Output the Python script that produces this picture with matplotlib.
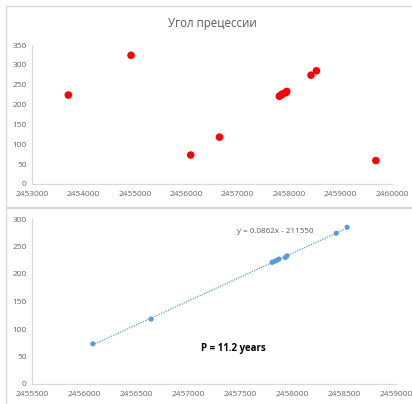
import matplotlib
matplotlib.use("Agg")
import matplotlib.pyplot as plt
from matplotlib.patches import Rectangle
import numpy as np

# Julian dates of the observations and the measured precession angle (deg)
jd = [2453706, 2454926, 2456085, 2456645, 2457808, 2457832, 2457855,
      2457875, 2457935, 2457952, 2458425, 2458530, 2459686]
angle = [224, 324, 73, 118, 221, 223, 225, 227, 230, 233, 274, 285, 59]

# observations used for the linear fit (one continuous cycle)
fit_start, fit_end = 2456000, 2459000

title = "Угол прецессии"
eq_text = "y = 0.0862x - 211550"
period_text = "P = 11.2 years"

top_xticks = list(range(2453000, 2460001, 1000))
top_yticks = list(range(0, 351, 50))
bot_xticks = list(range(2455500, 2459001, 500))
bot_yticks = list(range(0, 301, 50))

plt.rcParams['font.family'] = ['Open Sans', 'DejaVu Sans']

W, H = 412, 404
fig = plt.figure(figsize=(W / 100, H / 100), dpi=100)
fig.patch.set_facecolor("white")

frame_col = "#d9d9d9"
axis_col = "#d9d9d9"
tick_col = "#666666"


def px_axes(x0, x1, y_top, y_bot):
    return fig.add_axes([x0 / W, 1 - y_bot / H, (x1 - x0) / W, (y_bot - y_top) / H])


def style(ax):
    for s in ("top", "right"):
        ax.spines[s].set_visible(False)
    for s in ("left", "bottom"):
        ax.spines[s].set_color(axis_col)
        ax.spines[s].set_linewidth(0.9)
    ax.tick_params(length=0, labelsize=6.0, colors=tick_col)
    ax.tick_params(axis="x", pad=5)
    ax.tick_params(axis="y", pad=4)
    ax.set_facecolor("none")


# chart frames
fig.patches.append(Rectangle((6 / W, 1 - 207 / H), 410 / W, 201 / H,
                             transform=fig.transFigure, fill=False,
                             edgecolor=frame_col, linewidth=1.0))
fig.patches.append(Rectangle((6 / W, 1 - 410 / H), 410 / W, 202 / H,
                             transform=fig.transFigure, fill=False,
                             edgecolor=frame_col, linewidth=1.0))

# top chart: all observations
ax1 = px_axes(32, 392, 45, 184)
style(ax1)
ax1.scatter(jd, angle, s=30, color="#ff0000", edgecolors="none", zorder=3)
ax1.set_xlim(top_xticks[0], top_xticks[-1])
ax1.set_ylim(top_yticks[0], top_yticks[-1])
ax1.set_xticks(top_xticks)
ax1.set_yticks(top_yticks)
ax1.ticklabel_format(useOffset=False, style="plain")
fig.text(212 / W, 1 - 23 / H, title, ha="center", va="center",
         fontsize=8.3, color="#595959")

# bottom chart: single cycle with linear trend
jd_arr = np.array(jd, dtype=float)
ang_arr = np.array(angle, dtype=float)
sel = (jd_arr > fit_start) & (jd_arr < fit_end)
xs, ys = jd_arr[sel], ang_arr[sel]

ax2 = px_axes(32, 396, 219, 384)
style(ax2)
k, b = np.polyfit(xs, ys, 1)
xl = np.array([xs.min(), xs.max()])
ax2.plot(xl, k * xl + b, linestyle=(0, (1, 1)), color="#5b9bd5",
         linewidth=0.9, zorder=2)
ax2.scatter(xs, ys, s=14, color="#5b9bd5", edgecolors="none", zorder=3)
ax2.set_xlim(bot_xticks[0], bot_xticks[-1])
ax2.set_ylim(bot_yticks[0], bot_yticks[-1])
ax2.set_xticks(bot_xticks)
ax2.set_yticks(bot_yticks)
ax2.ticklabel_format(useOffset=False, style="plain")

fig.text(275 / W, 1 - 232 / H, eq_text, ha="center", va="center",
         fontsize=5.8, color="#595959")
fig.text(233 / W, 1 - 348 / H, period_text, ha="center", va="center",
         fontsize=7, fontweight="bold", color="#000000")

fig.savefig("out.png", dpi=100, facecolor="white")
